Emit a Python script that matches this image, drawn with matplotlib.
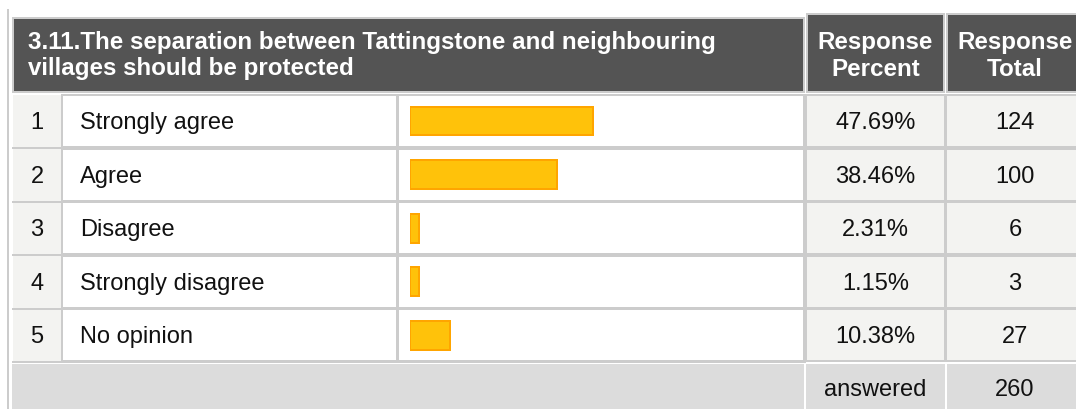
import matplotlib
matplotlib.use("Agg")
import matplotlib.pyplot as plt
from matplotlib.patches import Rectangle

# ---- data ----
title_lines = ["3.11.The separation between Tattingstone and neighbouring",
               "villages should be protected"]
col_headers = [["Response", "Percent"], ["Response", "Total"]]
numbers = ["1", "2", "3", "4", "5"]
categories = ["Strongly agree", "Agree", "Disagree", "Strongly disagree", "No opinion"]
percents = [47.69, 38.46, 2.31, 1.15, 10.38]
totals = [124, 100, 6, 3, 27]
answered_label = "answered"
answered_total = 260

W, H = 1076, 409
plt.rcParams['font.family'] = ['Liberation Sans', 'DejaVu Sans']

fig = plt.figure(figsize=(W / 100, H / 100), dpi=100)
fig.patch.set_facecolor('white')
ax = fig.add_axes([0, 0, 1, 1])
ax.set_xlim(0, W)
ax.set_ylim(H, 0)
ax.axis('off')

PX = 0.72  # points per pixel
GRID = '#cccccc'
DARK = '#545454'
LIGHT = '#f3f3f1'
ANS = '#dcdcdc'
FS = 17
HFS = 17.4


def cell(x0, y0, x1, y1, fc, ec=GRID, lw=2):
    ax.add_patch(Rectangle((x0, y0), x1 - x0, y1 - y0, facecolor=fc,
                           edgecolor=ec, linewidth=lw * PX, zorder=1))

# outer left line
ax.plot([8, 8], [10, H], color=GRID, lw=2 * PX, zorder=0)

# header
cell(13, 17.5, 803.5, 92, DARK)
cell(807, 14, 944, 92, DARK)
cell(947, 14, 1090, 92, DARK)
ax.text(28, 49, title_lines[0], color='white', fontsize=HFS, fontweight='bold', va='baseline', ha='left')
ax.text(28, 75, title_lines[1], color='white', fontsize=HFS, fontweight='bold', va='baseline', ha='left')
for cx, lines in zip([875.5, 1015], col_headers):
    ax.text(cx, 49, lines[0], color='white', fontsize=HFS, fontweight='bold', va='baseline', ha='center')
    ax.text(cx, 76, lines[1], color='white', fontsize=HFS, fontweight='bold', va='baseline', ha='center')

# rows
PITCH = 53.6
for i in range(len(categories)):
    top = 95 + PITCH * i
    bot = top + 52
    cell(13, top, 61, bot, LIGHT, ec='none')
    ax.plot([13, 805], [bot + 1, bot + 1], color=GRID, lw=2 * PX, zorder=2)
    cell(62, top, 397, bot, 'white')
    cell(398, top, 804, bot, 'white')
    cell(806, top, 945, bot, LIGHT)
    cell(946, top, 1090, bot, LIGHT)
    c = top + 26
    base = c + 8
    ax.text(37, base, numbers[i], fontsize=FS, va='baseline', ha='center', color='#111111')
    ax.text(80, base, categories[i], fontsize=FS, va='baseline', ha='left', color='#111111')
    ax.text(875.5, base, f"{percents[i]:.2f}%", fontsize=FS, va='baseline', ha='center', color='#111111')
    ax.text(1015, base, str(totals[i]), fontsize=FS, va='baseline', ha='center', color='#111111')

# answered row
cell(12, 364, 804, 412, ANS, ec='none')
cell(806, 364, 945, 412, ANS, ec='none')
cell(947, 364, 1090, 412, ANS, ec='none')
ax.text(875.5, 396.5, answered_label, fontsize=FS, va='baseline', ha='center', color='#111111')
ax.text(1015, 396.5, str(answered_total), fontsize=FS, va='baseline', ha='center', color='#111111')

# bars
n = len(categories)
y_top = 95 + 26 - PITCH / 2
y_bot = 95 + 26 + PITCH * (n - 1) + PITCH / 2
bax = fig.add_axes([410 / W, 1 - y_bot / H, 383 / W, (y_bot - y_top) / H])
bax.set_xlim(0, 100)
bax.set_ylim(n - 0.5, -0.5)
bax.axis('off')
bax.patch.set_alpha(0)
min_w = 2.35
shown = [max(p, min_w) for p in percents]
bax.barh(range(n), shown, height=0.54, left=0, color='#ffc20a',
         edgecolor='#ffa500', linewidth=2 * PX)

fig.savefig('out.png', dpi=100, facecolor='white')
